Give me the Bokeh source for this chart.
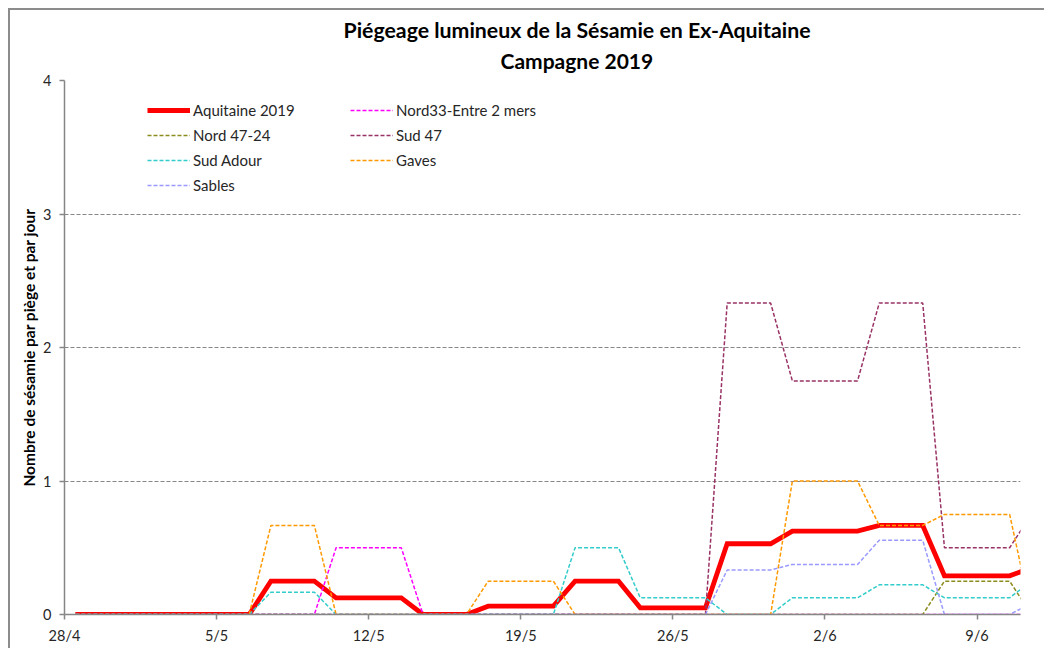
import pandas as pd
from bokeh.plotting import figure
from bokeh.models import Range1d, FixedTicker, Title, Legend, LegendItem
from bokeh.embed import file_html
from bokeh.resources import INLINE

# ---------------- data ----------------
dates = pd.date_range("2019-04-28", "2019-06-11", freq="D")
date_labels = [f"{d.day}/{d.month}" for d in dates]

aquitaine = [0, 0, 0, 0, 0, 0, 0, 0, 0, 0.25, 0.25, 0.25, 0.125, 0.125, 0.125, 0.125,
             0, 0, 0, 0.0625, 0.0625, 0.0625, 0.0625, 0.25, 0.25, 0.25, 0.05, 0.05, 0.05, 0.05,
             0.53, 0.53, 0.53, 0.625, 0.625, 0.625, 0.625, 0.667, 0.667, 0.667,
             0.29, 0.29, 0.29, 0.29, 0.35]
nord33 = [0, 0, 0, 0, 0, 0, 0, 0, 0, 0, 0, 0, 0.5, 0.5, 0.5, 0.5,
          0, 0, 0, 0, 0, 0, 0, 0, 0, 0, 0, 0, 0, 0,
          0, 0, 0, 0, 0, 0, 0, 0, 0, 0,
          0, 0, 0, 0, 0]
nord4724 = [0, 0, 0, 0, 0, 0, 0, 0, 0, 0, 0, 0, 0, 0, 0, 0,
            0, 0, 0, 0, 0, 0, 0, 0, 0, 0, 0, 0, 0, 0,
            0, 0, 0, 0, 0, 0, 0, 0, 0, 0,
            0.25, 0.25, 0.25, 0.25, 0]
sud47 = [0, 0, 0, 0, 0, 0, 0, 0, 0, 0, 0, 0, 0, 0, 0, 0,
         0, 0, 0, 0, 0, 0, 0, 0, 0, 0, 0, 0, 0, 0,
         2.333, 2.333, 2.333, 1.75, 1.75, 1.75, 1.75, 2.333, 2.333, 2.333,
         0.5, 0.5, 0.5, 0.5, 0.75]
sud_adour = [0, 0, 0, 0, 0, 0, 0, 0, 0, 0.167, 0.167, 0.167, 0, 0, 0, 0,
             0, 0, 0, 0, 0, 0, 0, 0.5, 0.5, 0.5, 0.125, 0.125, 0.125, 0.125,
             0, 0, 0, 0.125, 0.125, 0.125, 0.125, 0.222, 0.222, 0.222,
             0.125, 0.125, 0.125, 0.125, 0.25]
gaves = [0, 0, 0, 0, 0, 0, 0, 0, 0, 0.667, 0.667, 0.667, 0, 0, 0, 0,
         0, 0, 0, 0.25, 0.25, 0.25, 0.25, 0, 0, 0, 0, 0, 0, 0,
         0, 0, 0, 1.0, 1.0, 1.0, 1.0, 0.667, 0.667, 0.667,
         0.75, 0.75, 0.75, 0.75, 0]
sables = [0, 0, 0, 0, 0, 0, 0, 0, 0, 0, 0, 0, 0, 0, 0, 0,
          0, 0, 0, 0, 0, 0, 0, 0, 0, 0, 0, 0, 0, 0,
          0.333, 0.333, 0.333, 0.375, 0.375, 0.375, 0.375, 0.556, 0.556, 0.556,
          0, 0, 0, 0, 0.083]

series_names = ["Aquitaine 2019", "Nord33-Entre 2 mers", "Nord 47-24", "Sud 47",
                "Sud Adour", "Gaves", "Sables"]
series_values = [aquitaine, nord33, nord4724, sud47, sud_adour, gaves, sables]
series_colors = ["#FF0000", "#FF00FF", "#8C8C1E", "#993366", "#33CCCC", "#FF9900", "#9999FF"]

tick_labels = ["28/4", "5/5", "12/5", "19/5", "26/5", "2/6", "9/6"]
y_ticks = [0, 1, 2, 3, 4]

title_line1 = "Piégeage lumineux de la Sésamie en Ex-Aquitaine"
title_line2 = "Campagne 2019"
y_label = "Nombre de sésamie par piège et par jour"

# ---------------- derived positions ----------------
start = dates[0]
day_offset = [(d - start).days for d in dates]
xs = [o + 0.5 for o in day_offset]  # points sit in the middle of each day slot
tick_pos = [day_offset[date_labels.index(t)] for t in tick_labels]

FONT = "Lato"
GRID = "#868686"

p = figure(width=1036, height=640, output_backend="svg", toolbar_location=None,
           x_range=Range1d(0, 44.0), y_range=Range1d(0, 4),
           min_border_left=54, min_border_right=26, min_border_top=70, min_border_bottom=36)
p.styles = {"margin-left": "8px", "margin-top": "8px",
            "border-left": "2px solid #8c8c8c", "border-top": "2px solid #8c8c8c"}
p.outline_line_color = None
p.background_fill_color = "white"
p.border_fill_color = "white"

p.xaxis.ticker = FixedTicker(ticks=tick_pos)
p.xaxis.major_label_overrides = {pos: lab for pos, lab in zip(tick_pos, tick_labels)}
p.yaxis.ticker = FixedTicker(ticks=y_ticks)
for ax in (p.xaxis, p.yaxis):
    ax.axis_line_color = GRID
    ax.axis_line_width = 1.5
    ax.major_tick_line_color = GRID
    ax.major_tick_line_width = 1.5
    ax.major_tick_in = 0
    ax.major_tick_out = 5
    ax.minor_tick_line_color = None
    ax.major_label_text_font = FONT
    ax.major_label_text_font_size = "14.5px"
    ax.major_label_text_color = "#262626"
p.xaxis.major_label_standoff = 7
p.yaxis.major_label_standoff = 8

p.yaxis.axis_label = y_label
p.yaxis.axis_label_text_font = FONT
p.yaxis.axis_label_text_font_size = "15.5px"
p.yaxis.axis_label_text_font_style = "bold"
p.yaxis.axis_label_text_color = "black"
p.yaxis.axis_label_standoff = 2

p.xgrid.visible = False
p.ygrid.ticker = FixedTicker(ticks=[1, 2, 3, 4])
p.ygrid.grid_line_color = GRID
p.ygrid.grid_line_dash = "4 2"
p.ygrid.grid_line_width = 1.2

renderers = {}
for name, vals, col in zip(series_names, series_values, series_colors):
    if name == "Aquitaine 2019":
        r = p.line(xs, vals, line_color=col, line_width=4.8, line_join="miter")
    else:
        r = p.line(xs, vals, line_color=col, line_width=1.5, line_dash="4 2")
    renderers[name] = r

def make_legend(names, loc):
    lg = Legend(items=[LegendItem(label=n, renderers=[renderers[n]]) for n in names],
                location=loc, orientation="vertical")
    lg.background_fill_alpha = 0
    lg.border_line_color = None
    lg.padding = 0
    lg.margin = 0
    lg.spacing = 5
    lg.glyph_height = 20
    lg.glyph_width = 43
    lg.label_height = 20
    lg.label_standoff = 3
    lg.label_text_font = FONT
    lg.label_text_font_size = "15px"
    lg.label_text_color = "#262626"
    return lg

p.add_layout(make_legend(["Aquitaine 2019", "Nord 47-24", "Sud Adour", "Sables"], (83, 419)), "center")
p.add_layout(make_legend(["Nord33-Entre 2 mers", "Sud 47", "Gaves"], (286, 444)), "center")

# titles: second line is nearest the plot, first line above it
p.add_layout(Title(text=title_line2, align="left", offset=436, standoff=15,
                   text_font=FONT, text_font_size="21px", text_font_style="bold",
                   text_color="black"), "above")
p.add_layout(Title(text=title_line1, align="left", offset=279, standoff=-8,
                   text_font=FONT, text_font_size="21.3px", text_font_style="bold",
                   text_color="black"), "above")

open("out.html", "w").write(file_html(p, INLINE))
